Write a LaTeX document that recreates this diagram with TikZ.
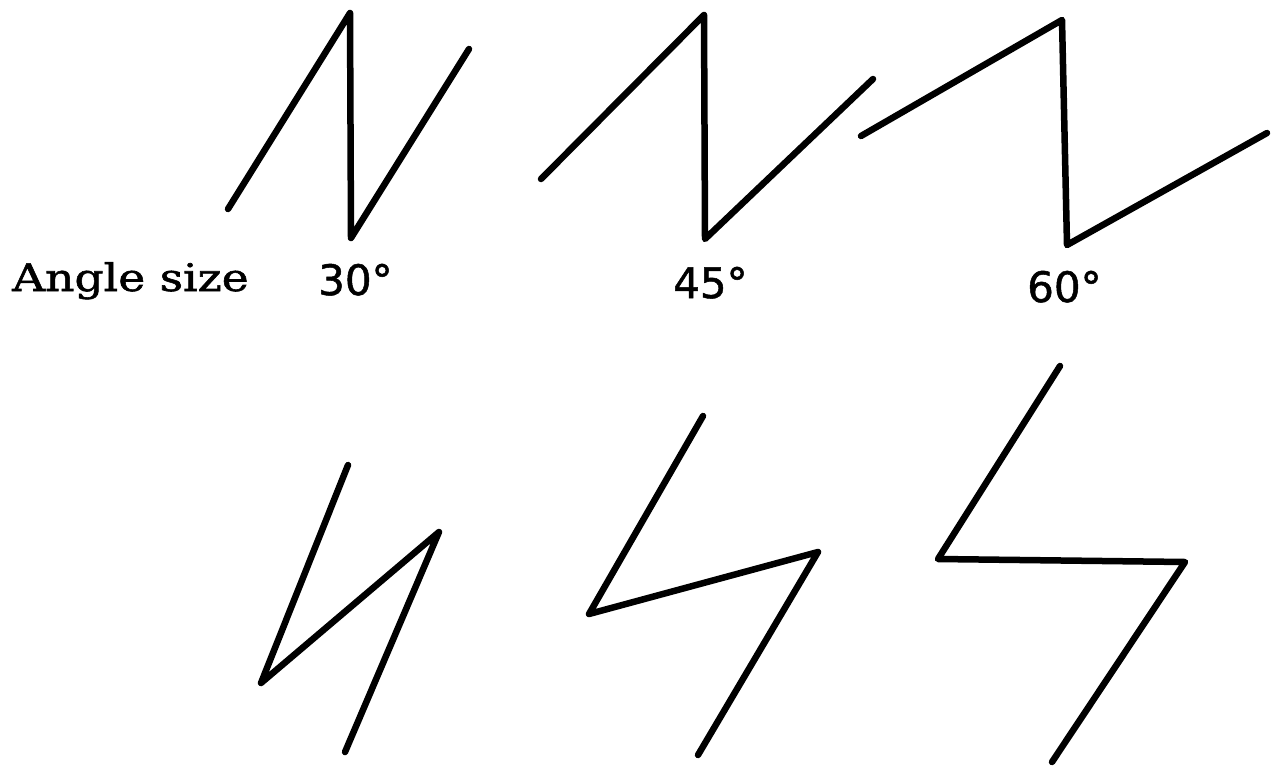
\documentclass[tikz,border=0pt]{standalone}
\usepackage{fontspec}
\setmainfont{DejaVu Serif}
\newfontfamily\titlefont[FakeStretch=1.2,FakeBold=1.5]{DejaVu Serif}
\newfontfamily\numfont[FakeBold=1.2]{DejaVu Sans}
\begin{document}
\begin{tikzpicture}[x=1pt,y=-1pt,
  zig/.style={line width=6.5pt, line cap=round, line join=round, black},
  lab/.style={font=\titlefont\fontsize{38}{38}\selectfont, inner sep=0pt, anchor=base west},
  deg/.style={font=\numfont\fontsize{42}{42}\selectfont, inner sep=0pt, anchor=base west}]
\useasboundingbox (0,0) rectangle (1273,765);
% top row
\coordinate (a1) at (228,209); \coordinate (a2) at (350,13); \coordinate (a3) at (351,238); \coordinate (a4) at (469,49);
\coordinate (b1) at (541,179); \coordinate (b2) at (704,15); \coordinate (b3) at (705,239); \coordinate (b4) at (873,79);
\coordinate (c1) at (861,136); \coordinate (c2) at (1062,20); \coordinate (c3) at (1067,245); \coordinate (c4) at (1267,133);
\draw[zig] (a1) -- (a2) -- (a3) -- (a4);
\draw[zig] (b1) -- (b2) -- (b3) -- (b4);
\draw[zig] (c1) -- (c2) -- (c3) -- (c4);
% bottom row
\coordinate (d1) at (348,465); \coordinate (d2) at (261,683); \coordinate (d3) at (439,532); \coordinate (d4) at (345,752);
\coordinate (e1) at (703,416); \coordinate (e2) at (589,614); \coordinate (e3) at (818,552); \coordinate (e4) at (698,755);
\coordinate (f1) at (1060,366); \coordinate (f2) at (938,559); \coordinate (f3) at (1185,562); \coordinate (f4) at (1052,762);
\draw[zig] (d1) -- (d2) -- (d3) -- (d4);
\draw[zig] (e1) -- (e2) -- (e3) -- (e4);
\draw[zig] (f1) -- (f2) -- (f3) -- (f4);
% labels
\node[lab] (title) at (12,291) {Angle size};
\node[deg] (l30) at (318,295) {30°};
\node[deg] (l45) at (673,298) {45°};
\node[deg] (l60) at (1027,302) {60°};
\end{tikzpicture}
\end{document}
